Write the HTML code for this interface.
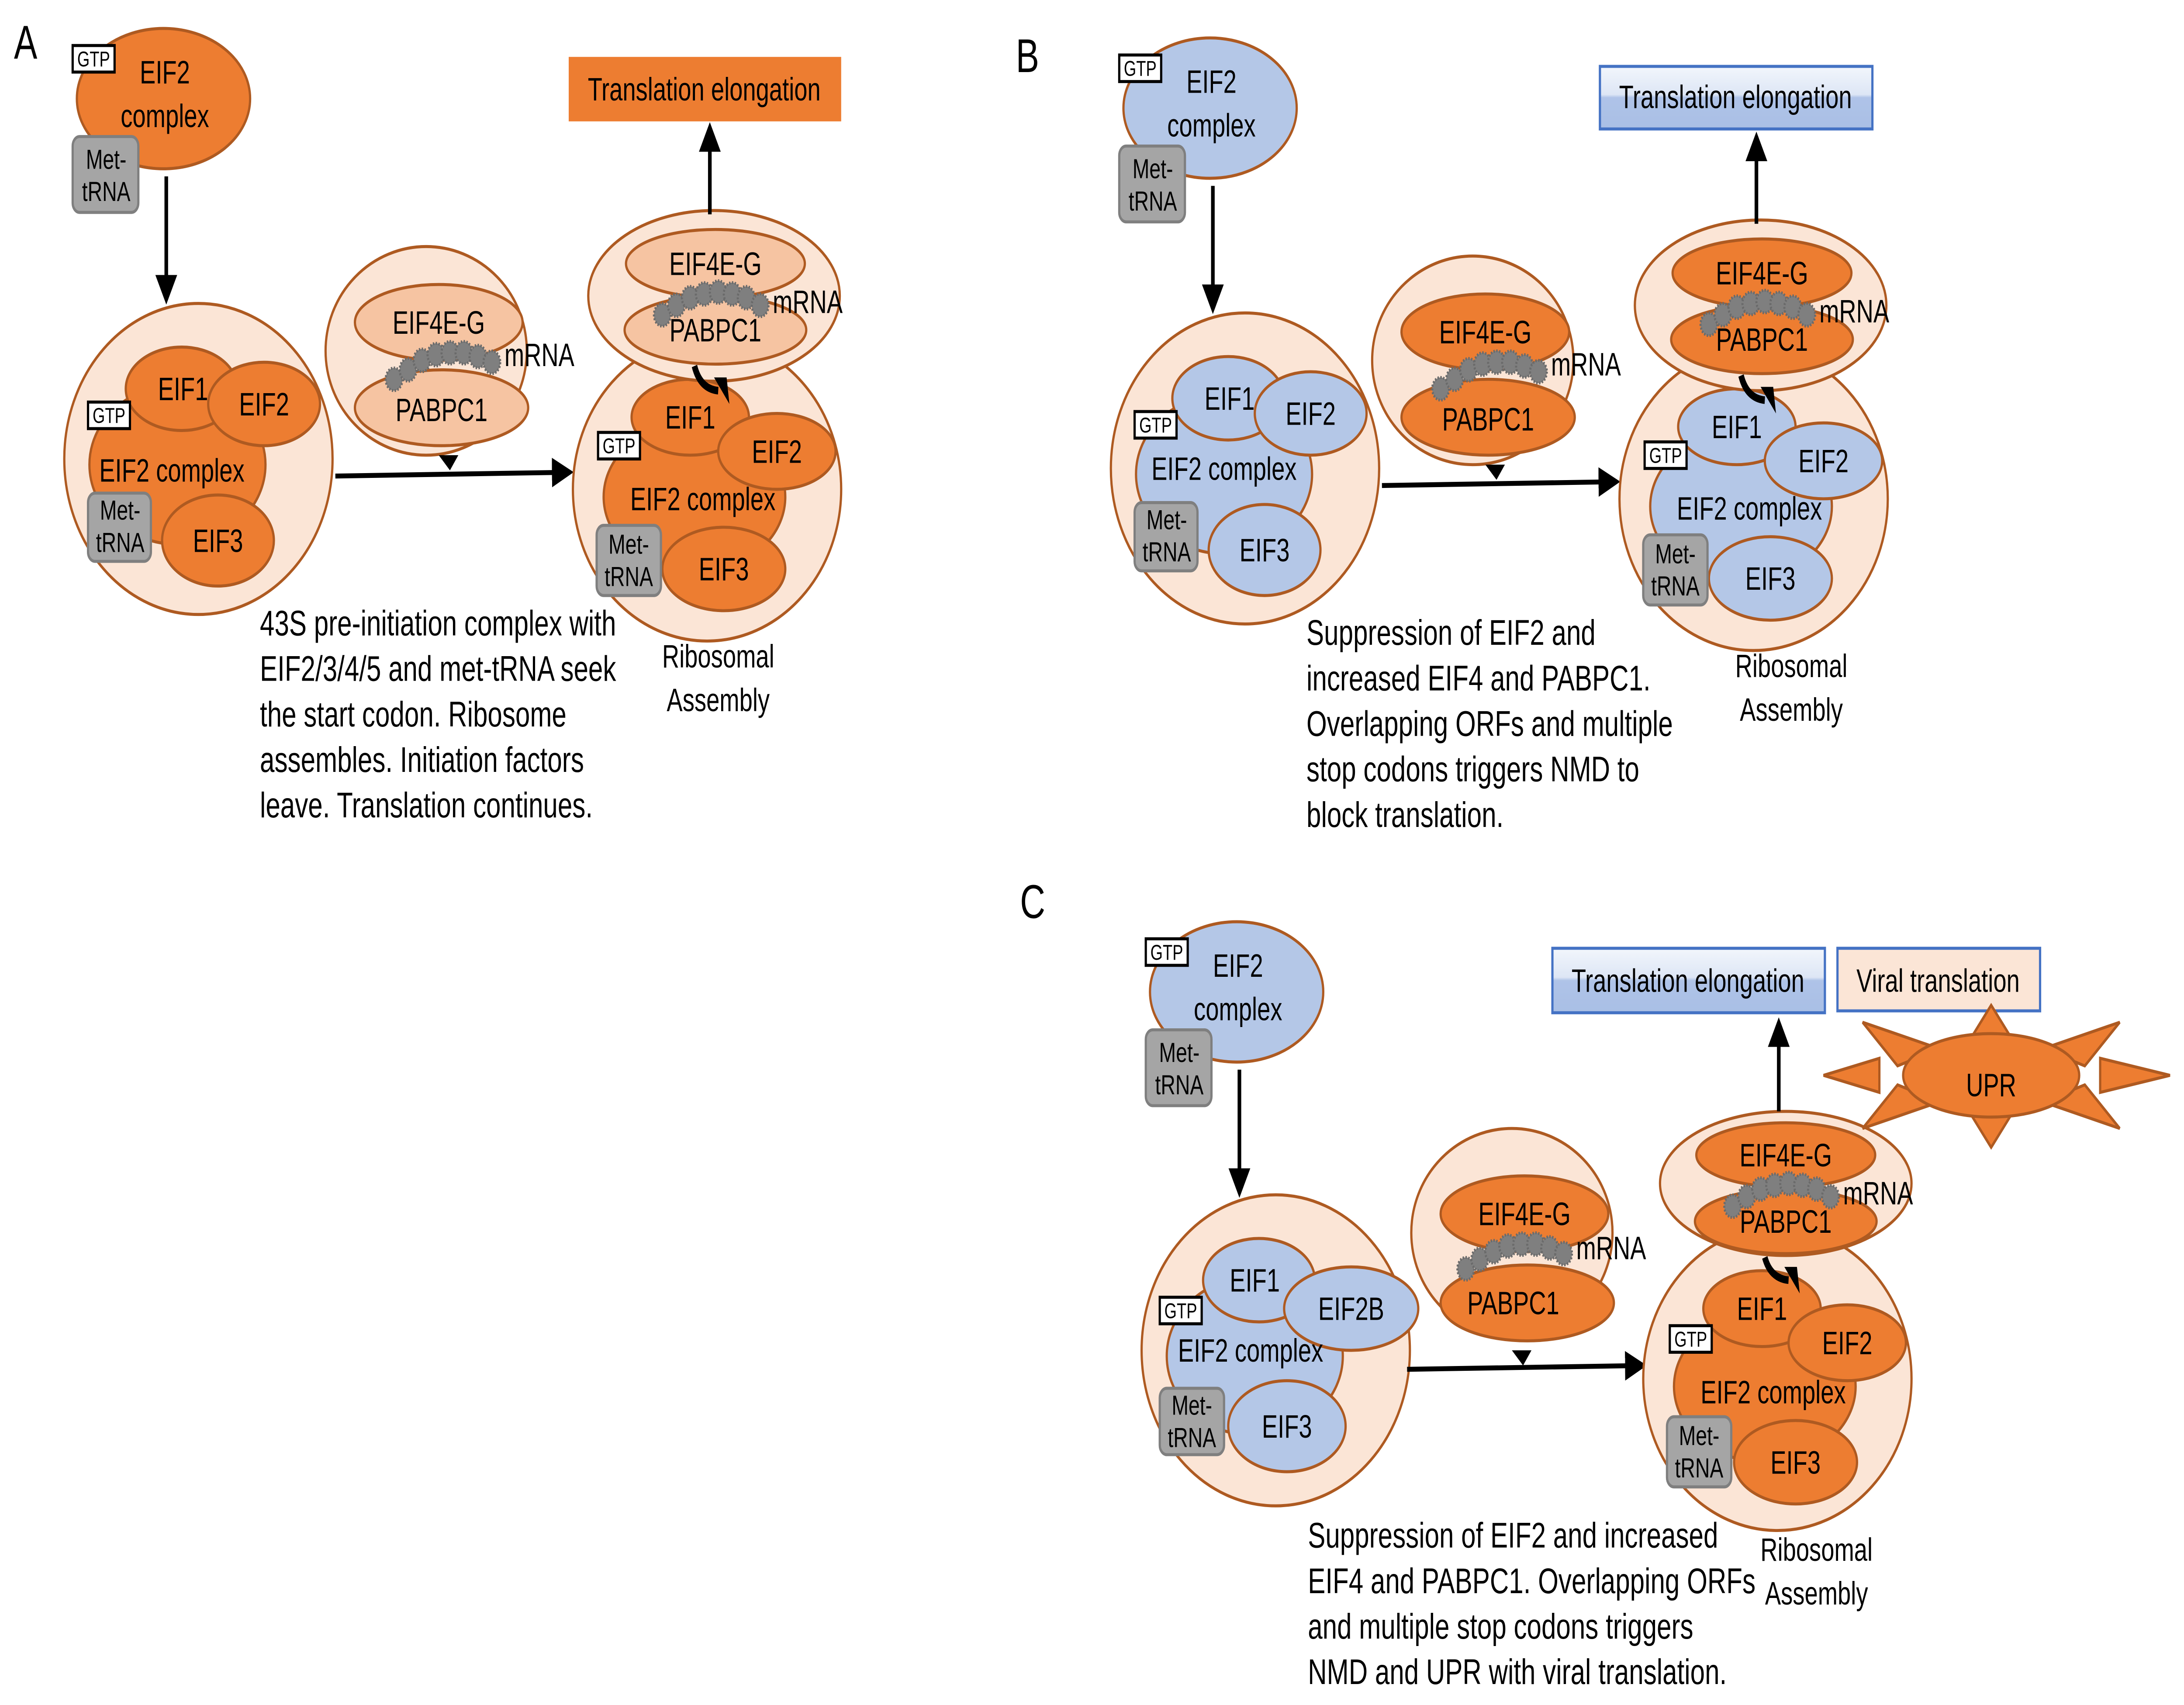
<!DOCTYPE html>
<html><head><meta charset="utf-8"><style>
html,body{margin:0;padding:0;background:#fff;width:100%;height:100%;overflow:hidden;}
svg{display:block;overflow:hidden;width:100vw;height:100vh;}
text{font-family:"Liberation Sans",sans-serif;fill:#000;}
.o{fill:#ED7D31;stroke:#AE5A21;stroke-width:1.6;}
.b{fill:#B4C7E7;stroke:#AE5A21;stroke-width:1.6;}
.l{fill:#FBE5D6;stroke:#AE5A21;stroke-width:1.6;}
.p{fill:#F6C4A2;stroke:#AE5A21;stroke-width:1.6;}
.g{fill:#A5A5A5;stroke:#7F7F7F;stroke-width:1.6;}
.gtp{fill:#fff;stroke:#000;stroke-width:1.6;}
.bead{fill:#7F7F7F;stroke:#6a6a6a;stroke-width:1.5;stroke-dasharray:1 1;}
.ln{stroke:#000;stroke-width:2.6;fill:none;}
.lb{font-size:17px;text-anchor:middle;}
.mt{font-size:14.5px;}
.sm{font-size:11.4px;text-anchor:middle;}
.cap{font-size:18.8px;}
.mr{font-size:17px;}
</style></head><body>
<svg viewBox="0 0 1563 899" preserveAspectRatio="none" xmlns="http://www.w3.org/2000/svg">
<defs>
<marker id="ah" markerWidth="6" markerHeight="6" refX="5" refY="3" orient="auto" markerUnits="strokeWidth"><path d="M0,0 L6,3 L0,6 z" fill="#000"/></marker>
<linearGradient id="bg" x1="0" y1="0" x2="0" y2="1"><stop offset="0" stop-color="#F2F6FC"/><stop offset="0.45" stop-color="#DDE6F5"/><stop offset="0.5" stop-color="#AFC3E8"/><stop offset="1" stop-color="#A9BFE5"/></linearGradient>
</defs>

<!-- ================= PANEL A ================= -->
<text x="10" y="31" font-size="25">A</text>
<ellipse class="o" cx="117" cy="52" rx="62" ry="37"/>
<text class="lb" x="118" y="44">EIF2</text><text class="lb" x="118" y="67">complex</text>
<rect class="gtp" x="52" y="24" width="30" height="14"/><text class="sm" x="67" y="35">GTP</text>
<rect class="g" x="52" y="72" width="47" height="40" rx="5"/><text class="lb mt" x="76" y="89">Met-</text><text class="lb mt" x="76" y="106">tRNA</text>
<line class="ln" x1="119" y1="93" x2="119" y2="158" marker-end="url(#ah)"/>

<ellipse class="l" cx="142" cy="242" rx="96" ry="82"/>
<ellipse class="o" cx="127" cy="245" rx="63" ry="42"/>
<ellipse class="o" cx="130" cy="205" rx="40" ry="22"/>
<ellipse class="o" cx="189" cy="213" rx="40" ry="22"/>
<ellipse class="o" cx="156" cy="285" rx="40" ry="24"/>
<text class="lb" x="131" y="211">EIF1</text><text class="lb" x="189" y="219">EIF2</text>
<text class="lb" x="123" y="254">EIF2 complex</text><text class="lb" x="156" y="291">EIF3</text>
<rect class="gtp" x="63" y="212" width="30" height="14"/><text class="sm" x="78" y="223">GTP</text>
<rect class="g" x="63" y="260" width="45" height="36" rx="5"/><text class="lb mt" x="86" y="274">Met-</text><text class="lb mt" x="86" y="291">tRNA</text>

<ellipse class="l" cx="305" cy="185" rx="72" ry="55"/>
<ellipse class="p" cx="314" cy="170" rx="60" ry="20"/>
<ellipse class="p" cx="316" cy="215" rx="62" ry="20"/>
<text class="lb" x="314" y="176">EIF4E-G</text><text class="lb" x="316" y="222">PABPC1</text>
<g class="bead"><circle cx="282" cy="200" r="6"/><circle cx="292" cy="195" r="6"/><circle cx="302" cy="190" r="6"/><circle cx="312" cy="187" r="6"/><circle cx="322" cy="186" r="6"/><circle cx="332" cy="186" r="6"/><circle cx="342" cy="188" r="6"/><circle cx="352" cy="191" r="6"/></g>
<text class="mr" x="361" y="193">mRNA</text>
<path d="M314,240 L328,240 L322,248 z" fill="#000"/>
<line class="ln" x1="240" y1="251" x2="408" y2="249" marker-end="url(#ah)"/>

<ellipse class="l" cx="506" cy="258" rx="96" ry="80"/>
<ellipse class="o" cx="497" cy="262" rx="65" ry="40"/>
<ellipse class="o" cx="494" cy="220" rx="42" ry="20"/>
<ellipse class="o" cx="556" cy="238" rx="42" ry="20"/>
<ellipse class="o" cx="518" cy="300" rx="44" ry="22"/>
<text class="lb" x="494" y="226">EIF1</text><text class="lb" x="556" y="244">EIF2</text>
<text class="lb" x="503" y="269">EIF2 complex</text><text class="lb" x="518" y="306">EIF3</text>
<rect class="gtp" x="428" y="228" width="30" height="14"/><text class="sm" x="443" y="239">GTP</text>
<rect class="g" x="427" y="277" width="46" height="37" rx="5"/><text class="lb mt" x="450" y="292">Met-</text><text class="lb mt" x="450" y="309">tRNA</text>
<ellipse class="l" cx="511" cy="156" rx="90" ry="45"/>
<ellipse class="p" cx="512" cy="139" rx="64" ry="18"/>
<ellipse class="p" cx="512" cy="174" rx="65" ry="18"/>
<text class="lb" x="512" y="145">EIF4E-G</text><text class="lb" x="512" y="180">PABPC1</text>
<g class="bead"><circle cx="474" cy="166" r="6"/><circle cx="484" cy="161" r="6"/><circle cx="494" cy="157" r="6"/><circle cx="504" cy="155" r="6"/><circle cx="514" cy="154" r="6"/><circle cx="524" cy="155" r="6"/><circle cx="534" cy="157" r="6"/><circle cx="544" cy="161" r="6"/></g>
<text class="mr" x="553" y="165">mRNA</text>
<path d="M497,193 Q501,205 514,206" stroke="#000" stroke-width="4" fill="none"/><path d="M511,199 L522,213 L520,199 z" fill="#000"/>
<line class="ln" x1="508" y1="113" x2="508" y2="67" marker-end="url(#ah)"/>
<rect x="407" y="30" width="195" height="34" fill="#ED7D31"/>
<text class="lb" x="504" y="53" font-size="18">Translation elongation</text>
<g class="cap"><text x="186" y="335">43S pre-initiation complex with</text><text x="186" y="359">EIF2/3/4/5 and met-tRNA seek</text><text x="186" y="383">the start codon. Ribosome</text><text x="186" y="407">assembles. Initiation factors</text><text x="186" y="431">leave. Translation continues.</text></g>
<text class="lb" x="514" y="352">Ribosomal</text><text class="lb" x="514" y="375">Assembly</text>

<!-- ================= PANEL B ================= -->
<text x="727" y="38" font-size="25">B</text>
<g transform="translate(749,5)">
<ellipse class="b" cx="117" cy="52" rx="62" ry="37"/>
<text class="lb" x="118" y="44">EIF2</text><text class="lb" x="118" y="67">complex</text>
<rect class="gtp" x="52" y="24" width="30" height="14"/><text class="sm" x="67" y="35">GTP</text>
<rect class="g" x="52" y="72" width="47" height="40" rx="5"/><text class="lb mt" x="76" y="89">Met-</text><text class="lb mt" x="76" y="106">tRNA</text>
<line class="ln" x1="119" y1="93" x2="119" y2="158" marker-end="url(#ah)"/>
<ellipse class="l" cx="142" cy="242" rx="96" ry="82"/>
<ellipse class="b" cx="127" cy="245" rx="63" ry="42"/>
<ellipse class="b" cx="130" cy="205" rx="40" ry="22"/>
<ellipse class="b" cx="189" cy="213" rx="40" ry="22"/>
<ellipse class="b" cx="156" cy="285" rx="40" ry="24"/>
<text class="lb" x="131" y="211">EIF1</text><text class="lb" x="189" y="219">EIF2</text>
<text class="lb" x="127" y="248">EIF2 complex</text><text class="lb" x="156" y="291">EIF3</text>
<rect class="gtp" x="63" y="212" width="30" height="14"/><text class="sm" x="78" y="223">GTP</text>
<rect class="g" x="63" y="260" width="45" height="36" rx="5"/><text class="lb mt" x="86" y="274">Met-</text><text class="lb mt" x="86" y="291">tRNA</text>
<ellipse class="l" cx="305" cy="185" rx="72" ry="55"/>
<ellipse class="o" cx="314" cy="170" rx="60" ry="20"/>
<ellipse class="o" cx="316" cy="215" rx="62" ry="20"/>
<text class="lb" x="314" y="176">EIF4E-G</text><text class="lb" x="316" y="222">PABPC1</text>
<g class="bead"><circle cx="282" cy="200" r="6"/><circle cx="292" cy="195" r="6"/><circle cx="302" cy="190" r="6"/><circle cx="312" cy="187" r="6"/><circle cx="322" cy="186" r="6"/><circle cx="332" cy="186" r="6"/><circle cx="342" cy="188" r="6"/><circle cx="352" cy="191" r="6"/></g>
<text class="mr" x="361" y="193">mRNA</text>
<path d="M314,240 L328,240 L322,248 z" fill="#000"/>
<line class="ln" x1="240" y1="251" x2="408" y2="249" marker-end="url(#ah)"/>
<ellipse class="l" cx="506" cy="258" rx="96" ry="80"/>
<ellipse class="b" cx="497" cy="262" rx="65" ry="40"/>
<ellipse class="b" cx="494" cy="220" rx="42" ry="20"/>
<ellipse class="b" cx="556" cy="238" rx="42" ry="20"/>
<ellipse class="b" cx="518" cy="300" rx="44" ry="22"/>
<text class="lb" x="494" y="226">EIF1</text><text class="lb" x="556" y="244">EIF2</text>
<text class="lb" x="503" y="269">EIF2 complex</text><text class="lb" x="518" y="306">EIF3</text>
<rect class="gtp" x="428" y="228" width="30" height="14"/><text class="sm" x="443" y="239">GTP</text>
<rect class="g" x="427" y="277" width="46" height="37" rx="5"/><text class="lb mt" x="450" y="292">Met-</text><text class="lb mt" x="450" y="309">tRNA</text>
<ellipse class="l" cx="511" cy="156" rx="90" ry="45"/>
<ellipse class="o" cx="512" cy="139" rx="64" ry="18"/>
<ellipse class="o" cx="512" cy="174" rx="65" ry="18"/>
<text class="lb" x="512" y="145">EIF4E-G</text><text class="lb" x="512" y="180">PABPC1</text>
<g class="bead"><circle cx="474" cy="166" r="6"/><circle cx="484" cy="161" r="6"/><circle cx="494" cy="157" r="6"/><circle cx="504" cy="155" r="6"/><circle cx="514" cy="154" r="6"/><circle cx="524" cy="155" r="6"/><circle cx="534" cy="157" r="6"/><circle cx="544" cy="161" r="6"/></g>
<text class="mr" x="553" y="165">mRNA</text>
<path d="M497,193 Q501,205 514,206" stroke="#000" stroke-width="4" fill="none"/><path d="M511,199 L522,213 L520,199 z" fill="#000"/>
<line class="ln" x1="508" y1="113" x2="508" y2="67" marker-end="url(#ah)"/>
<text class="lb" x="533" y="352">Ribosomal</text><text class="lb" x="533" y="375">Assembly</text>
</g>
<rect x="1145" y="35" width="195" height="33" fill="url(#bg)" stroke="#4472C4" stroke-width="1.6"/>
<text class="lb" x="1242" y="57" font-size="18">Translation elongation</text>
<g class="cap"><text x="935" y="340">Suppression of EIF2 and</text><text x="935" y="364">increased EIF4 and PABPC1.</text><text x="935" y="388">Overlapping ORFs and multiple</text><text x="935" y="412">stop codons triggers NMD to</text><text x="935" y="436">block translation.</text></g>

<!-- ================= PANEL C ================= -->
<text x="730" y="484" font-size="25">C</text>
<g transform="translate(768,471)">
<ellipse class="b" cx="117" cy="52" rx="62" ry="37"/>
<text class="lb" x="118" y="44">EIF2</text><text class="lb" x="118" y="67">complex</text>
<rect class="gtp" x="52" y="24" width="30" height="14"/><text class="sm" x="67" y="35">GTP</text>
<rect class="g" x="52" y="72" width="47" height="40" rx="5"/><text class="lb mt" x="76" y="89">Met-</text><text class="lb mt" x="76" y="106">tRNA</text>
<line class="ln" x1="119" y1="93" x2="119" y2="158" marker-end="url(#ah)"/>
</g>
<g transform="translate(771,470)">
<ellipse class="l" cx="142" cy="242" rx="96" ry="82"/>
<ellipse class="b" cx="127" cy="245" rx="63" ry="42"/>
<ellipse class="b" cx="130" cy="205" rx="40" ry="22"/>
<ellipse class="b" cx="196" cy="220" rx="48" ry="22"/>
<ellipse class="b" cx="150" cy="282" rx="42" ry="24"/>
<text class="lb" x="127" y="211">EIF1</text><text class="lb" x="196" y="226">EIF2B</text>
<text class="lb" x="124" y="248">EIF2 complex</text><text class="lb" x="150" y="288">EIF3</text>
<rect class="gtp" x="59" y="214" width="30" height="14"/><text class="sm" x="74" y="225">GTP</text>
<rect class="g" x="59" y="262" width="46" height="35" rx="5"/><text class="lb mt" x="82" y="276">Met-</text><text class="lb mt" x="82" y="293">tRNA</text>
<line class="ln" x1="236" y1="252" x2="405" y2="250" marker-end="url(#ah)"/>
</g>
<g transform="translate(777,465)">
<ellipse class="l" cx="305" cy="185" rx="72" ry="55"/>
<ellipse class="o" cx="314" cy="175" rx="60" ry="20"/>
<ellipse class="o" cx="316" cy="222" rx="62" ry="20"/>
<text class="lb" x="314" y="181">EIF4E-G</text><text class="lb" x="306" y="228">PABPC1</text>
<g class="bead"><circle cx="272" cy="204" r="6"/><circle cx="282" cy="199" r="6"/><circle cx="292" cy="195" r="6"/><circle cx="302" cy="192" r="6"/><circle cx="312" cy="191" r="6"/><circle cx="322" cy="191" r="6"/><circle cx="332" cy="193" r="6"/><circle cx="342" cy="196" r="6"/></g>
<text class="mr" x="351" y="199">mRNA</text>
<path d="M305,247 L319,247 L313,255 z" fill="#000"/>
</g>
<g transform="translate(766,469)">
<ellipse class="l" cx="506" cy="258" rx="96" ry="80"/>
<ellipse class="o" cx="497" cy="262" rx="65" ry="40"/>
<ellipse class="o" cx="495" cy="221" rx="42" ry="20"/>
<ellipse class="o" cx="556" cy="239" rx="42" ry="20"/>
<ellipse class="o" cx="519" cy="302" rx="44" ry="22"/>
<text class="lb" x="495" y="227">EIF1</text><text class="lb" x="556" y="245">EIF2</text>
<text class="lb" x="503" y="271">EIF2 complex</text><text class="lb" x="519" y="308">EIF3</text>
<rect class="gtp" x="429" y="230" width="30" height="14"/><text class="sm" x="444" y="241">GTP</text>
<rect class="g" x="427" y="278" width="46" height="37" rx="5"/><text class="lb mt" x="450" y="293">Met-</text><text class="lb mt" x="450" y="310">tRNA</text>
<ellipse class="l" cx="512" cy="155" rx="90" ry="38"/>
<ellipse class="o" cx="512" cy="140" rx="64" ry="17"/>
<ellipse class="o" cx="512" cy="175" rx="65" ry="17"/>
<text class="lb" x="512" y="146">EIF4E-G</text><text class="lb" x="512" y="181">PABPC1</text>
<g class="bead"><circle cx="474" cy="167" r="6"/><circle cx="484" cy="162" r="6"/><circle cx="494" cy="158" r="6"/><circle cx="504" cy="156" r="6"/><circle cx="514" cy="155" r="6"/><circle cx="524" cy="156" r="6"/><circle cx="534" cy="158" r="6"/><circle cx="544" cy="162" r="6"/></g>
<text class="mr" x="553" y="166">mRNA</text>
<path d="M497,194 Q501,205 514,206" stroke="#000" stroke-width="4" fill="none"/><path d="M511,199 L522,213 L520,199 z" fill="#000"/>
<line class="ln" x1="507" y1="117" x2="507" y2="70" marker-end="url(#ah)"/>
<text class="lb" x="534" y="354">Ribosomal</text><text class="lb" x="534" y="377">Assembly</text>
</g>
<rect x="1111" y="500" width="195" height="34" fill="url(#bg)" stroke="#4472C4" stroke-width="1.6"/>
<text class="lb" x="1208" y="523" font-size="18">Translation elongation</text>
<rect x="1315" y="500" width="145" height="33" fill="#FBE5D6" stroke="#4472C4" stroke-width="1.6"/>
<text class="lb" x="1387" y="523" font-size="18">Viral translation</text>
<g fill="#ED7D31" stroke="#AE5A21" stroke-width="1.6">
<polygon points="1425,530 1410,548 1440,548"/>
<polygon points="1425,605 1410,587 1440,587"/>
<polygon points="1305,567 1345,558 1345,576"/>
<polygon points="1553,567 1503,558 1503,576"/>
<polygon points="1333,539 1388,553 1358,562"/>
<polygon points="1517,539 1462,553 1492,562"/>
<polygon points="1333,595 1388,581 1358,572"/>
<polygon points="1517,595 1462,581 1492,572"/>
<ellipse cx="1425" cy="567" rx="63" ry="22"/>
</g>
<text class="lb" x="1425" y="578" font-size="29">UPR</text>
<g class="cap"><text x="936" y="816">Suppression of EIF2 and increased</text><text x="936" y="840">EIF4 and PABPC1. Overlapping ORFs</text><text x="936" y="864">and multiple stop codons triggers</text><text x="936" y="888">NMD and UPR with viral translation.</text></g>
</svg>
</body></html>
